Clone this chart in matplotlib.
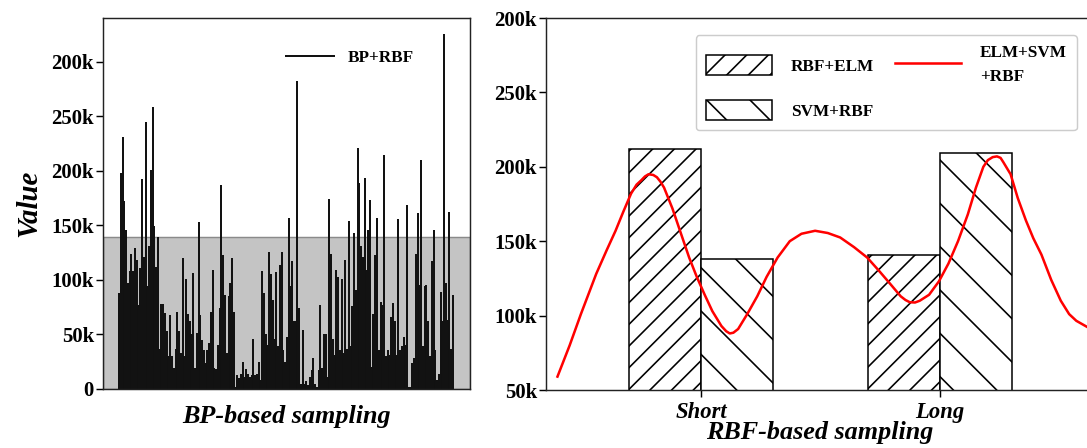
import numpy as np
import matplotlib
matplotlib.use('Agg')
import matplotlib.pyplot as plt

plt.rcParams['font.family'] = ['Liberation Serif', 'DejaVu Serif']
plt.rcParams['font.weight'] = 'bold'
plt.rcParams['hatch.linewidth'] = 0.9

# left panel: BP+RBF values (k)
bp_rbf = [88, 198, 231, 172, 146, 97, 108, 124, 108, 129, 118, 77, 111, 192, 121, 245, 94, 131, 201, 258,
          149, 112, 139, 37, 78, 78, 70, 53, 30, 68, 30, 19, 37, 71, 53, 33, 120, 30, 101, 69,
          62, 50, 106, 19, 51, 153, 68, 45, 36, 24, 36, 42, 71, 109, 19, 18, 40, 74, 187, 123,
          86, 33, 85, 97, 120, 71, 2, 13, 10, 14, 25, 11, 18, 14, 11, 13, 46, 13, 14, 25,
          8, 108, 88, 50, 40, 126, 105, 82, 46, 107, 39, 114, 126, 36, 25, 48, 157, 94, 117, 62,
          62, 282, 74, 5, 54, 5, 7, 4, 11, 17, 28, 5, 2, 17, 77, 19, 50, 50, 11, 174,
          124, 46, 31, 109, 103, 36, 101, 33, 118, 37, 154, 39, 76, 143, 91, 221, 189, 131, 121, 193,
          109, 146, 173, 20, 69, 123, 157, 36, 80, 77, 214, 30, 36, 31, 66, 79, 62, 31, 156, 36,
          39, 48, 40, 169, 2, 2, 24, 28, 124, 161, 95, 210, 39, 94, 95, 62, 30, 117, 146, 36,
          8, 14, 89, 62, 325, 97, 63, 162, 37, 86]
bp_threshold = 139
left_ticks = [0, 50, 100, 150, 200, 250, 300]
left_ticklabels = ['0', '50k', '100k', '150k', '200k', '250k', '200k']

# right panel
groups = ['Short', 'Long']
rbf_elm = [212, 141]
svm_rbf = [138, 209]
curve_x = [-0.601, -0.55, -0.503, -0.439, -0.395, -0.358, -0.325, -0.293, -0.27, -0.25, -0.235, -0.22,
           -0.2, -0.185, -0.17, -0.155, -0.12, -0.084, -0.05, -0.018, 0.015, 0.047, 0.085, 0.105, 0.12,
           0.135, 0.155, 0.193, 0.235, 0.274, 0.32, 0.371, 0.42, 0.477, 0.53, 0.582, 0.64, 0.695, 0.745,
           0.793, 0.835, 0.855, 0.873, 0.895, 0.915, 0.954, 0.995, 1.035, 1.075, 1.116, 1.15, 1.181,
           1.2, 1.22, 1.238, 1.253, 1.265, 1.295, 1.325, 1.359, 1.39, 1.424, 1.465, 1.505, 1.54, 1.57,
           1.615]
curve_y = [59, 80, 101, 128, 144, 157, 170, 182, 188, 191, 193.5, 195, 194.5, 193, 190, 186, 172, 155,
           139, 126, 114, 103, 93, 89.5, 88, 88.5, 91, 101, 113, 126, 139, 150, 155, 157, 155.5, 152.5,
           146, 139, 130, 121, 113, 110.5, 109, 108.8, 110, 114, 123, 135, 150, 168, 186, 200, 204.5,
           206.5, 207, 206, 203, 195, 179, 164, 152, 141, 124, 110, 101, 96.5, 92.4]
right_ticks = [50, 100, 150, 200, 250, 300]
right_ticklabels = ['50k', '100k', '150k', '200k', '250k', '200k']

DPI = 130
fig = plt.figure(figsize=(1087 / DPI, 448 / DPI), dpi=DPI)

# ---- left
ax1 = fig.add_axes([103 / 1087, 59 / 448, 367 / 1087, 371 / 448])
n = len(bp_rbf)
s = 334 / (n - 1)
ax1.axhspan(0, bp_threshold * 1000, facecolor='#c4c4c4', edgecolor='#8a8a8a', linewidth=0.8, zorder=0)
ax1.vlines(np.arange(n), 0, np.array(bp_rbf) * 1000, color='#111111', linewidth=1.1, label='BP+RBF', zorder=2)
ax1.set_xlim(-16 / s, n - 1 + 17 / s)
ax1.set_ylim(0, 340000)
ax1.set_yticks([t * 1000 for t in left_ticks])
ax1.set_yticklabels(left_ticklabels)
ax1.set_xticks([])
ax1.tick_params(axis='y', labelsize=11.5, length=4, width=0.8, pad=1)
for sp in ax1.spines.values():
    sp.set_linewidth(0.8)
    sp.set_color('#222222')
ax1.set_ylabel('Value', fontsize=16, fontstyle='italic', fontweight='bold', labelpad=5)
ax1.set_xlabel('BP-based sampling', fontsize=14.5, fontstyle='italic', fontweight='bold', labelpad=9)
ax1.legend(loc='center left', bbox_to_anchor=(0.496, 0.892), frameon=False, fontsize=9.5,
           handlelength=2.9, handletextpad=0.75, borderpad=0, borderaxespad=0)

# ---- right
ax2 = fig.add_axes([546 / 1087, 58 / 448, 548 / 1087, 372 / 448])
x = np.arange(len(groups))
w = 0.3
b1 = ax2.bar(x - w / 2, np.array(rbf_elm) * 1000, w, facecolor='white', edgecolor='black', linewidth=0.85,
             hatch='//', label='RBF+ELM', zorder=2)
b2 = ax2.bar(x + w / 2, np.array(svm_rbf) * 1000, w, facecolor='white', edgecolor='black', linewidth=0.85,
             hatch='\\', label='SVM+RBF', zorder=2)
ln, = ax2.plot(curve_x, np.array(curve_y) * 1000, color='red', linewidth=1.4, label='ELM+SVM\n+RBF', zorder=3)
ax2.set_xlim(-0.649, 1.644)
ax2.set_ylim(50000, 300000)
ax2.set_yticks([t * 1000 for t in right_ticks])
ax2.set_yticklabels(right_ticklabels)
ax2.set_xticks(x)
ax2.set_xticklabels(groups, fontstyle='italic', fontweight='bold')
ax2.tick_params(axis='y', labelsize=11.5, length=4, width=0.8, pad=1)
ax2.tick_params(axis='x', labelsize=12.5, length=4, width=0.8, pad=2.5)
for sp in ax2.spines.values():
    sp.set_linewidth(0.8)
    sp.set_color('#222222')
ax2.set_xlabel('RBF-based sampling', fontsize=14.5, fontstyle='italic', fontweight='bold', labelpad=-1)
leg = ax2.legend(handles=[b1, b2, ln], loc='upper right', ncol=2, fontsize=9.5, handlelength=3.85,
                 handleheight=1.4, handletextpad=1.1, labelspacing=1.45, columnspacing=1.2, borderpad=0.6,
                 borderaxespad=1.0, fancybox=True, framealpha=1, edgecolor='#cccccc')
leg.get_frame().set_linewidth(0.8)
leg.get_texts()[2].set_linespacing(1.6)

fig.savefig('out.png', dpi=DPI)
